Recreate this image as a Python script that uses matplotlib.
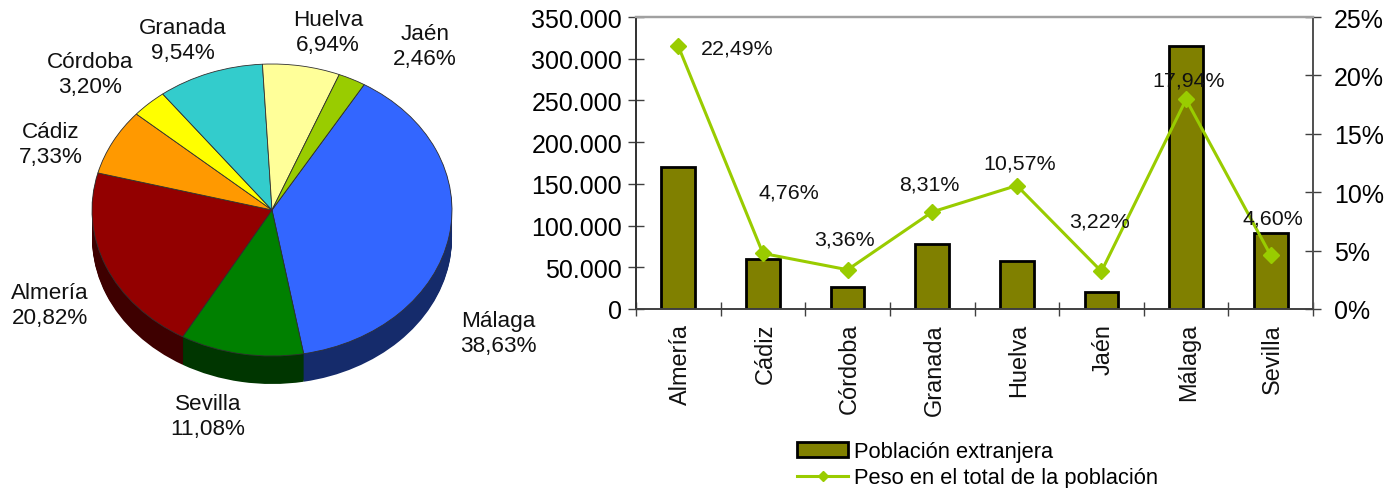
import matplotlib
matplotlib.use("Agg")
import matplotlib.pyplot as plt
from matplotlib.colors import to_rgb

plt.rcParams["font.family"] = ["Liberation Sans", "DejaVu Sans"]

W, H = 1394, 489
PIE_FONT = 16.2
TICK_FONT = 18
CAT_FONT = 16.9
LABEL_FONT = 15.4
LEGEND_FONT = 15.75

# pie data, clockwise from the Jaen/Malaga boundary
pie_names = ["Málaga", "Sevilla", "Almería", "Cádiz", "Córdoba", "Granada", "Huelva", "Jaén"]
pie_shares = [38.63, 11.08, 20.82, 7.33, 3.20, 9.54, 6.94, 2.46]
pie_colors = ["#3366FF", "#008000", "#930000", "#FF9900", "#FFFF00", "#33CCCC", "#FFFF99", "#99CC00"]
pie_label_xy = [(498, 334), (208, 417), (50, 306), (51, 145), (90, 75), (183, 41), (328, 33), (425, 47)]

# bar and line data
provinces = ["Almería", "Cádiz", "Córdoba", "Granada", "Huelva", "Jaén", "Málaga", "Sevilla"]
population = [170000, 60000, 26000, 78000, 57000, 20000, 315000, 91000]
weight = [22.49, 4.76, 3.36, 8.31, 10.57, 3.22, 17.94, 4.60]
weight_offsets = [(59, -2), (26, 61), (-3, 31), (-3, 28), (3, 23), (-2, 50), (3, 19), (2, 37)]
left_ticks = [0, 50000, 100000, 150000, 200000, 250000, 300000, 350000]
left_labels = ["0", "50.000", "100.000", "150.000", "200.000", "250.000", "300.000", "350.000"]
right_ticks = [0, 5, 10, 15, 20, 25]


def pct(value):
    return f"{value:.2f}".replace(".", ",") + "%"


fig = plt.figure(figsize=(W / 100, H / 100), dpi=100)

# =============================================================================
# PIE
# =============================================================================

cx, cy, rx, ry, depth = 272, 211, 180, 146, 28

ax_pie = fig.add_axes([0, 0, 560 / W, 1])
start = 59.2

dark = [tuple(c * 0.42 for c in to_rgb(col)) for col in pie_colors]
for step in range(depth, 0, -1):
    ax_pie.pie(pie_shares, colors=dark, startangle=start, counterclock=False,
               center=(0, -step / ry), radius=1)

ax_pie.pie(pie_shares, colors=pie_colors, startangle=start, counterclock=False,
           center=(0, 0), radius=1,
           wedgeprops={"edgecolor": "#303030", "linewidth": 0.6})

ax_pie.set_aspect("auto")
ax_pie.set_xlim(-cx / rx, (560 - cx) / rx)
ax_pie.set_ylim((cy - H) / ry, cy / ry)
ax_pie.axis("off")

for name, share, (px, py) in zip(pie_names, pie_shares, pie_label_xy):
    fig.text(px / W, 1 - py / H, f"{name}\n{pct(share)}", ha="center", va="center",
             fontsize=PIE_FONT, color="#111111", linespacing=1.27)

# =============================================================================
# BARS AND LINE
# =============================================================================

left, right, top, bottom = 636, 1313, 18, 310
ax = fig.add_axes([left / W, 1 - bottom / H, (right - left) / W, (bottom - top) / H])

positions = range(len(provinces))
bars = ax.bar(positions, population, width=0.4, color="#808000", edgecolor="black",
              linewidth=2, label="Población extranjera", zorder=2)
ax.set_xlim(-0.5, len(provinces) - 0.5)
ax.set_ylim(0, 350000)
ax.set_yticks(left_ticks)
ax.set_yticklabels(left_labels, fontsize=TICK_FONT)
ax.set_xticks([i - 0.5 for i in range(len(provinces) + 1)])
ax.set_xticklabels([])
ax.tick_params(axis="y", direction="inout", length=11, width=1, color="#404040", pad=4.5)
ax.tick_params(axis="x", direction="inout", length=10, width=1, color="#404040")

for i, name in enumerate(provinces):
    ax.annotate(name, (i, 0), xytext=(1.5, -10), textcoords="offset points", rotation=90,
                ha="center", va="top", fontsize=CAT_FONT, color="#111111")

ax2 = ax.twinx()
ax2.set_ylim(0, 25)
ax2.set_yticks(right_ticks)
ax2.set_yticklabels([f"{t}%" for t in right_ticks], fontsize=TICK_FONT)
ax2.tick_params(axis="y", direction="inout", length=11, width=1, color="#404040", pad=9.5)
line, = ax2.plot(positions, weight, color="#99CC00", linewidth=2.2, marker="D", markersize=8,
                 markeredgecolor="#99CC00", label="Peso en el total de la población", zorder=3)

for i, (value, (dx, dy)) in enumerate(zip(weight, weight_offsets)):
    ax2.annotate(pct(value), (i, value), xytext=(dx * 0.72, dy * 0.72), textcoords="offset points",
                 ha="center", va="center", fontsize=LABEL_FONT, color="#111111")

for axis in (ax, ax2):
    axis.spines["top"].set_color("#a0a0a0")
    axis.spines["top"].set_linewidth(1.6)
    axis.spines["left"].set_color("#303030")
    axis.spines["left"].set_linewidth(1.2)
    axis.spines["bottom"].set_color("#404040")
    axis.spines["bottom"].set_linewidth(1.2)
    axis.spines["right"].set_color("#505050")
    axis.spines["right"].set_linewidth(1.2)

fig.legend(handles=[bars, line], loc="upper left", bbox_to_anchor=(793 / W, 1 - 438 / H),
           frameon=False, fontsize=LEGEND_FONT, handlelength=2.3, handletextpad=0.3,
           labelspacing=0.22, borderpad=0.2, borderaxespad=0, markerscale=0.7)

fig.savefig("out.png", dpi=100)
